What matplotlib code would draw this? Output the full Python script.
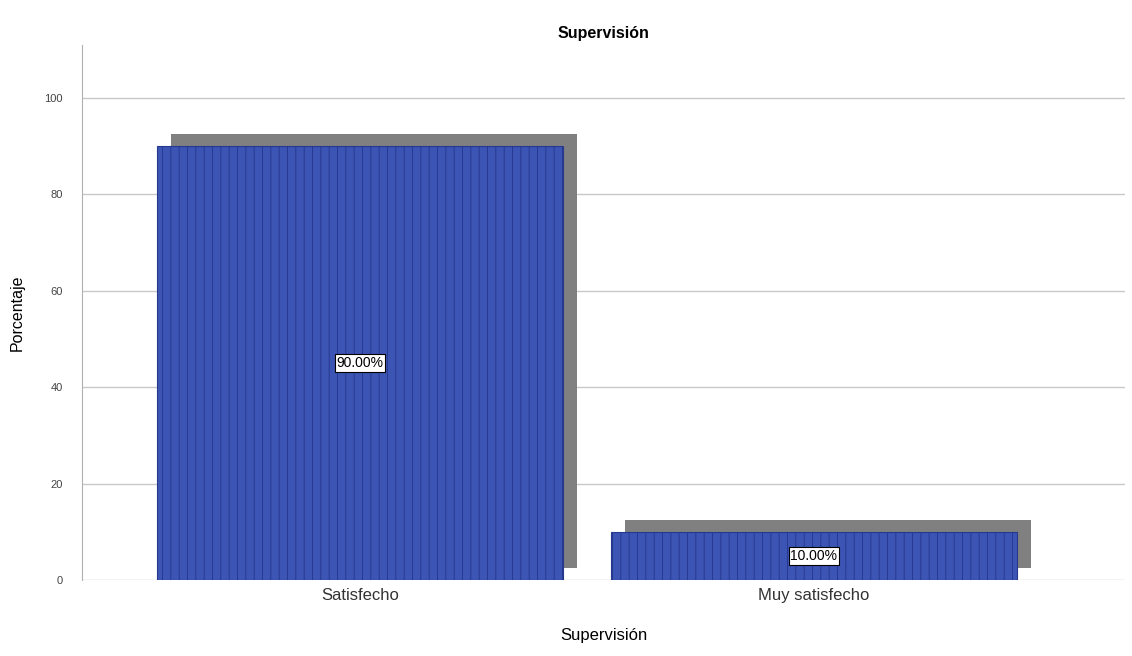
import matplotlib.pyplot as plt
from matplotlib.transforms import offset_copy

categorias = ["Satisfecho", "Muy satisfecho"]
porcentajes = [90.0, 10.0]
etiquetas = ["90.00%", "10.00%"]
ticks_y = [0, 20, 40, 60, 80, 100]

plt.rcParams["font.family"] = ["Liberation Sans", "DejaVu Sans"]
plt.rcParams["hatch.linewidth"] = 0.7

fig = plt.figure(figsize=(11.32, 6.56), dpi=100)
ax = fig.add_axes([82 / 1132, 76 / 656, 1043 / 1132, 535 / 656])

pos = list(range(len(categorias)))
ancho = 0.894

# sombra gris desplazada (efecto 3D)
sombra = offset_copy(ax.transData, fig=fig, x=14, y=12, units="dots")
ax.bar(pos, porcentajes, width=ancho, color="#808080", transform=sombra, zorder=2)

ax.bar(pos, porcentajes, width=ancho, color="#3c55b4", edgecolor="#27398f",
       linewidth=0.8, hatch="||", zorder=3)

for x, v, t in zip(pos, porcentajes, etiquetas):
    ax.text(x, v / 2, t, ha="center", va="center", fontsize=10, zorder=5,
            bbox=dict(boxstyle="square,pad=0.12", fc="white", ec="black", lw=0.8))

ax.set_xlim(-0.612, 1.685)
ax.set_ylim(0, 111)
ax.set_yticks(ticks_y)
ax.set_xticks(pos)
ax.set_xticklabels(categorias, fontsize=12, color="#333333")
ax.tick_params(axis="y", length=0, labelsize=8, labelcolor="#444444", pad=14)
ax.tick_params(axis="x", length=0, pad=6)
ax.yaxis.grid(True, color="#c8c8c8", linewidth=1)
ax.set_axisbelow(True)

for lado in ["top", "right", "bottom"]:
    ax.spines[lado].set_visible(False)
ax.spines["left"].set_color("#b0b0b0")

ax.set_title("Supervisión", fontsize=11.5, fontweight="bold", pad=5)
ax.set_xlabel("Supervisión", fontsize=12, labelpad=18)
ax.set_ylabel("Porcentaje", fontsize=11.5, labelpad=14)

fig.savefig("out.png", dpi=100)
